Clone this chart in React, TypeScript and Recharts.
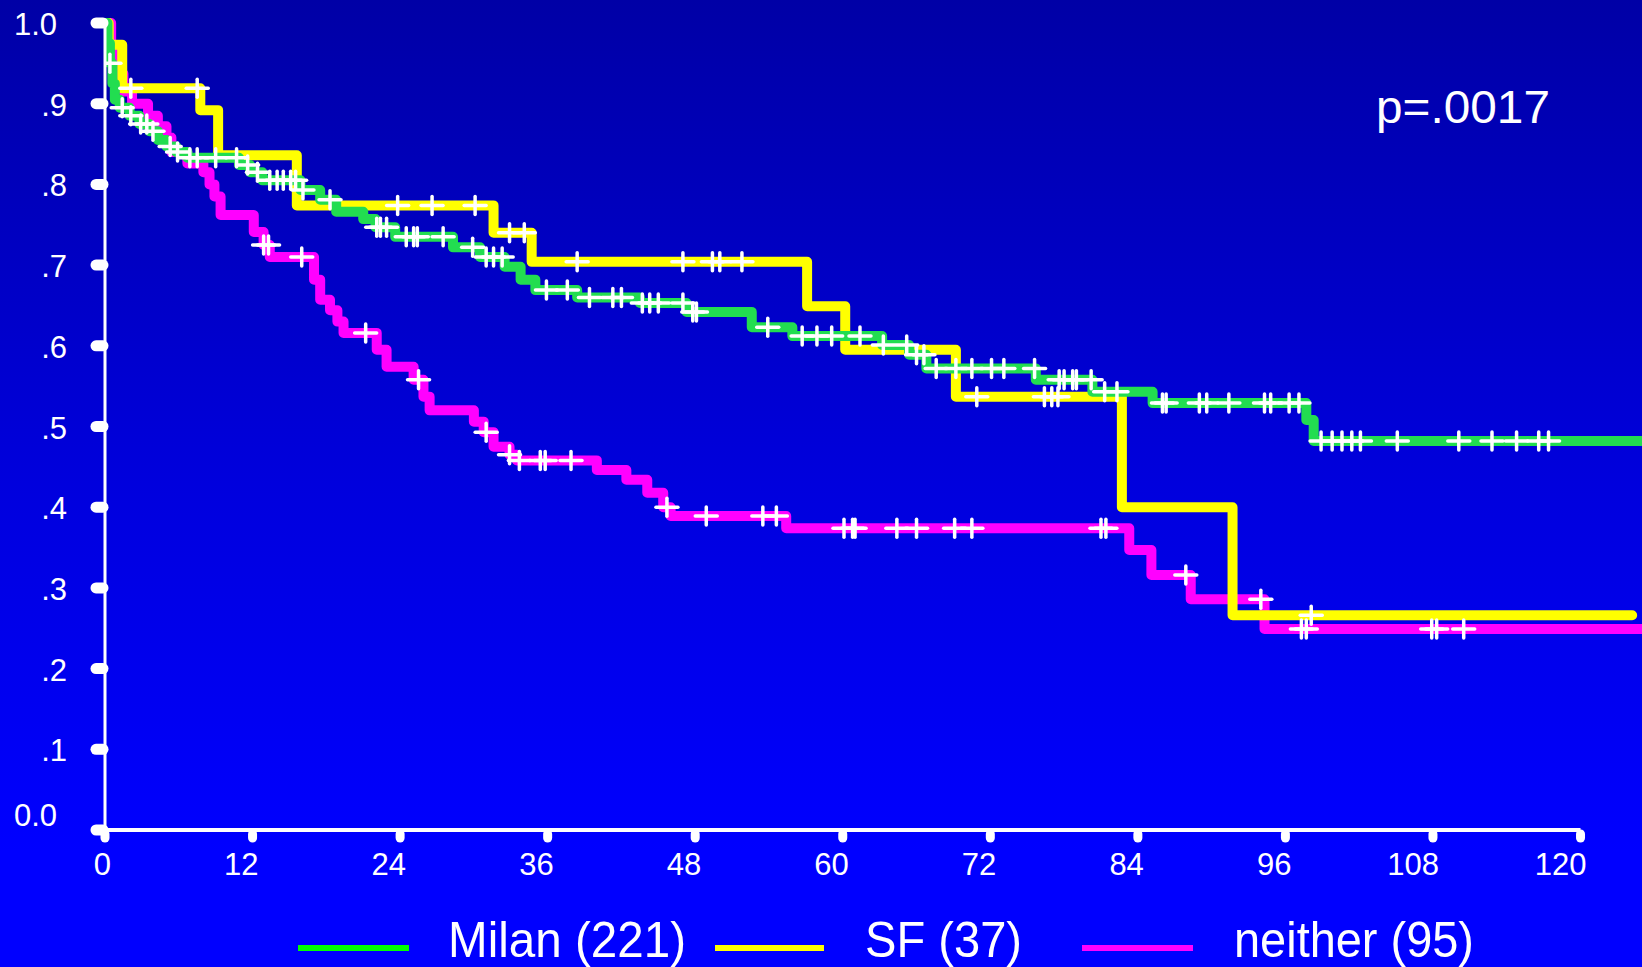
import React from 'react';
import { ComposedChart, Line, Scatter, XAxis, YAxis, ReferenceLine } from 'recharts';

const W = 1642;
const H = 967;
const FONT = '"Liberation Sans", Arial, Helvetica, sans-serif';

// Kaplan-Meier steps: month where the step starts, survival from that month on
const milanMonths = [0, 0.2, 0.4, 0.6, 0.8, 1.2, 2.0, 2.8, 3.6, 4.3, 5.0, 5.8, 6.7, 10.9, 11.8, 12.8, 15.9, 17.5, 18.8, 21.0, 22.0, 23.6, 28.3, 30.5, 32.5, 33.8, 35.0, 38.4, 43.5, 47.3, 52.6, 55.9, 63.2, 65.4, 66.8, 75.7, 80.3, 85.2, 97.7, 98.3, 125];
const milanSurv = [1.0, 0.975, 0.95, 0.925, 0.905, 0.895, 0.885, 0.875, 0.866, 0.855, 0.847, 0.84, 0.833, 0.824, 0.815, 0.805, 0.793, 0.781, 0.766, 0.757, 0.747, 0.735, 0.722, 0.71, 0.698, 0.682, 0.669, 0.66, 0.653, 0.642, 0.623, 0.612, 0.601, 0.589, 0.572, 0.558, 0.543, 0.529, 0.508, 0.482, 0.482];

const sfMonths = [0, 0.3, 1.4, 7.75, 9.2, 15.6, 31.6, 34.7, 57.1, 60.2, 69.2, 82.7, 91.7, 124.2];
const sfSurv = [1.0, 0.973, 0.919, 0.892, 0.836, 0.774, 0.74, 0.704, 0.649, 0.595, 0.537, 0.4, 0.266, 0.266];

const neitherMonths = [0, 0.5, 1.0, 1.5, 2.2, 3.5, 4.3, 5.0, 5.4, 6.7, 8.0, 8.5, 8.9, 9.4, 12.1, 12.9, 13.4, 17.0, 17.5, 18.3, 18.9, 19.4, 22.1, 22.9, 25.1, 25.9, 26.4, 30.0, 30.8, 31.6, 32.9, 33.5, 40.0, 42.4, 44.1, 45.4, 46.0, 55.4, 83.3, 85.1, 88.3, 94.3, 125];
const neitherSurv = [1.0, 0.968, 0.937, 0.915, 0.9, 0.885, 0.872, 0.858, 0.84, 0.826, 0.815, 0.8, 0.785, 0.762, 0.741, 0.725, 0.71, 0.682, 0.657, 0.644, 0.63, 0.616, 0.595, 0.574, 0.558, 0.537, 0.52, 0.506, 0.493, 0.475, 0.465, 0.458, 0.446, 0.434, 0.418, 0.4, 0.389, 0.374, 0.347, 0.316, 0.286, 0.249, 0.249];

// censored observations (months)
const milanCensored = [0.4, 1.4, 2.1, 2.9, 3.4, 3.9, 5.3, 5.9, 6.9, 7.5, 9.0, 10.7, 11.6, 12.4, 13.4, 14.0, 14.5, 15.1, 15.5, 16.1, 18.3, 22.1, 22.4, 22.9, 24.5, 25.1, 25.4, 27.5, 29.9, 31.0, 31.6, 32.3, 35.9, 37.6, 39.4, 41.3, 42.0, 43.7, 44.3, 45.0, 47.0, 47.8, 48.1, 53.9, 56.7, 57.9, 59.1, 61.4, 63.3, 65.2, 66.0, 66.6, 67.6, 69.2, 70.5, 72.1, 73.1, 75.6, 77.6, 78.0, 78.7, 79.0, 80.2, 81.3, 82.3, 86.0, 86.3, 89.0, 89.6, 91.4, 94.3, 94.8, 96.3, 97.1, 98.9, 99.8, 100.6, 101.4, 102.1, 105.1, 110.1, 112.8, 114.8, 116.6, 117.4];
const sfCensored = [2.1, 7.5, 23.8, 26.6, 30.1, 32.9, 34.1, 38.4, 47.0, 49.4, 50.0, 51.8, 70.9, 76.4, 77.0, 77.5, 98.1];
const neitherCensored = [12.9, 13.3, 16.0, 21.2, 25.5, 31.0, 32.9, 33.7, 35.4, 35.8, 37.9, 45.7, 48.9, 53.5, 54.6, 60.1, 60.8, 61.0, 64.4, 66.0, 69.1, 70.5, 81.0, 81.4, 87.9, 94.0, 97.3, 97.7, 107.9, 108.3, 110.5];

const xTicks = [0, 12, 24, 36, 48, 60, 72, 84, 96, 108, 120];
const yTicks = [0, 0.1, 0.2, 0.3, 0.4, 0.5, 0.6, 0.7, 0.8, 0.9, 1.0];
const yLabels = ['0.0', '.1', '.2', '.3', '.4', '.5', '.6', '.7', '.8', '.9', '1.0'];

const seriesNames = ['Milan (221)', 'SF (37)', 'neither (95)'];
const pValue = 'p=.0017';

const GREEN = '#22dd50';
const YELLOW = '#ffff00';
const MAGENTA = '#ff00ff';

const stepAt = (months: number[], surv: number[], t: number) => {
  let v = surv[0];
  for (let i = 0; i < months.length; i++) if (months[i] <= t) v = surv[i];
  return v;
};
const toSteps = (months: number[], surv: number[]) => months.map((t, i) => ({ t, s: surv[i] }));
const toCensors = (months: number[], surv: number[], times: number[]) =>
  times.map((t) => ({ t, s: stepAt(months, surv, t) }));

const milanData = toSteps(milanMonths, milanSurv);
const sfData = toSteps(sfMonths, sfSurv);
const neitherData = toSteps(neitherMonths, neitherSurv);
const milanCens = toCensors(milanMonths, milanSurv, milanCensored);
const sfCens = toCensors(sfMonths, sfSurv, sfCensored);
const neitherCens = toCensors(neitherMonths, neitherSurv, neitherCensored);

const Cross = (props: any) => {
  const { cx, cy } = props;
  if (cx == null || cy == null) return null;
  return (
    <g stroke="#fff" strokeWidth={3.5} strokeLinecap="round">
      <line x1={cx - 11} x2={cx + 11} y1={cy} y2={cy} />
      <line x1={cx} x2={cx} y1={cy - 9} y2={cy + 9} />
    </g>
  );
};

const YTick = (props: any) => {
  const { y, payload } = props;
  const idx = yTicks.findIndex((v) => Math.abs(v - payload.value) < 1e-6);
  const label = yLabels[idx] ?? '';
  const wide = label.length > 2;
  return (
    <g>
      <line x1={96} x2={103} y1={y} y2={y} stroke="#fff" strokeWidth={11} strokeLinecap="round" />
      <text
        x={wide ? 57 : 67}
        y={(idx === 0 ? y - 16 : y) + 12}
        textAnchor="end"
        fill="#fff"
        fontSize={31}
        fontFamily={FONT}
      >
        {label}
      </text>
    </g>
  );
};

const XTick = (props: any) => {
  const { x, payload } = props;
  return (
    <g>
      <line x1={x} x2={x} y1={834} y2={838} stroke="#fff" strokeWidth={9} strokeLinecap="round" />
      <text x={x + 6} y={875} textAnchor="end" fill="#fff" fontSize={31} fontFamily={FONT}>
        {payload.value}
      </text>
    </g>
  );
};

export default function App() {
  const legend = [
    { name: seriesNames[0], color: '#00ff00', x1: 298, x2: 409, tx: 448, tw: 238 },
    { name: seriesNames[1], color: YELLOW, x1: 715, x2: 824, tx: 865, tw: 157 },
    { name: seriesNames[2], color: MAGENTA, x1: 1082, x2: 1193, tx: 1234, tw: 240 },
  ];
  return (
    <div
      style={{
        position: 'absolute',
        left: 0,
        top: 0,
        width: W,
        height: H,
        overflow: 'hidden',
        background: 'linear-gradient(180deg, #0000a6 0%, #0000dd 50%, #0000ff 88%, #0000ff 100%)',
      }}
    >
      <ComposedChart width={W} height={H} margin={{ top: 23, right: 0, bottom: 0, left: 0 }}>
        <XAxis
          dataKey="t"
          type="number"
          domain={[0, 125]}
          ticks={xTicks}
          axisLine={false}
          tickLine={false}
          tick={<XTick />}
          height={137}
          allowDataOverflow
        />
        <YAxis
          dataKey="s"
          type="number"
          domain={[0, 1]}
          ticks={yTicks}
          axisLine={{ stroke: '#fff', strokeWidth: 3 }}
          tickLine={false}
          tick={<YTick />}
          width={105}
        />
        <ReferenceLine
          segment={[
            { x: 0, y: 0 },
            { x: 120, y: 0 },
          ]}
          stroke="#fff"
          strokeWidth={4}
        />
        <Line
          data={neitherData}
          dataKey="s"
          type="stepAfter"
          stroke={MAGENTA}
          strokeWidth={10}
          strokeLinejoin="round"
          strokeLinecap="round"
          dot={false}
          activeDot={false}
          isAnimationActive={false}
        />
        <Line
          data={sfData}
          dataKey="s"
          type="stepAfter"
          stroke={YELLOW}
          strokeWidth={10}
          strokeLinejoin="round"
          strokeLinecap="round"
          dot={false}
          activeDot={false}
          isAnimationActive={false}
        />
        <Line
          data={milanData}
          dataKey="s"
          type="stepAfter"
          stroke={GREEN}
          strokeWidth={10}
          strokeLinejoin="round"
          strokeLinecap="round"
          dot={false}
          activeDot={false}
          isAnimationActive={false}
        />
        <Scatter data={neitherCens} dataKey="s" shape={<Cross />} isAnimationActive={false} />
        <Scatter data={sfCens} dataKey="s" shape={<Cross />} isAnimationActive={false} />
        <Scatter data={milanCens} dataKey="s" shape={<Cross />} isAnimationActive={false} />
      </ComposedChart>
      <svg
        width={W}
        height={H}
        style={{ position: 'absolute', left: 0, top: 0, pointerEvents: 'none' }}
      >
        <text x={1376} y={123} fill="#fff" fontSize={46} fontFamily={FONT} textLength={174} lengthAdjust="spacingAndGlyphs">
          {pValue}
        </text>
        {legend.map((l) => (
          <g key={l.name}>
            <line x1={l.x1} x2={l.x2} y1={948} y2={948} stroke={l.color} strokeWidth={6} />
            <text
              x={l.tx}
              y={957}
              fill="#fff"
              fontSize={50}
              fontFamily={FONT}
              textLength={l.tw}
              lengthAdjust="spacingAndGlyphs"
            >
              {l.name}
            </text>
          </g>
        ))}
      </svg>
    </div>
  );
}
